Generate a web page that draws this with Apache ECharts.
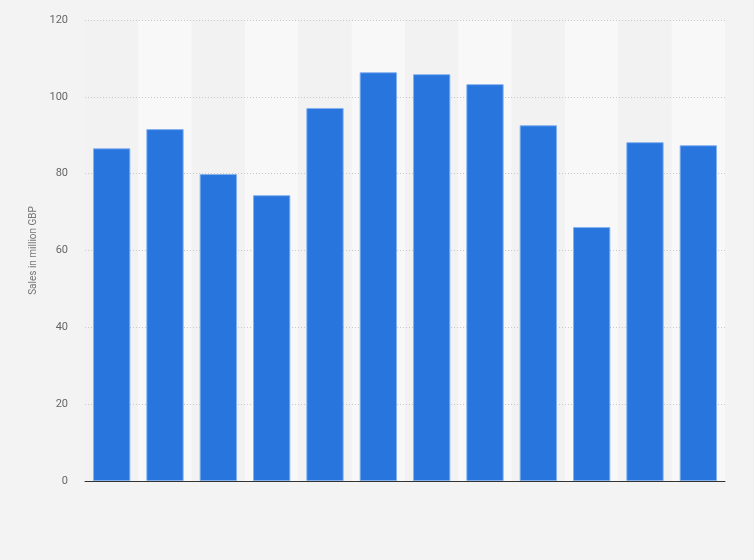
<!DOCTYPE html>
<html>
<head>
<meta charset="utf-8">
<script src="https://cdn.jsdelivr.net/npm/echarts@6/dist/echarts.min.js"></script>
<style>
html,body{margin:0;padding:0;background:#f3f3f3;}
#c{width:754px;height:560px;}
</style>
</head>
<body>
<div id="c"></div>
<script>
var categories = ['2008','2009','2010','2011','2012','2013','2014','2015','2016','2017','2018','2019'];
var sales = [86.6, 91.6, 79.9, 74.4, 97.1, 106.4, 105.9, 103.3, 92.6, 66.1, 88.2, 87.4];
var yTicks = {min: 0, max: 120, interval: 20};

var chart = echarts.init(document.getElementById('c'), null, {renderer: 'canvas'});
chart.setOption({
  backgroundColor: '#f3f3f3',
  animation: false,
  grid: {left: 85, right: 29, top: 20, bottom: 79, containLabel: false},
  xAxis: [{
    type: 'category',
    data: categories,
    z: 0,
    axisLine: {show: false},
    axisTick: {show: false},
    axisLabel: {show: false},
    splitLine: {show: false},
    splitArea: {show: true, areaStyle: {color: ['#f2f2f2', '#f8f8f8']}}
  }, {
    type: 'category',
    data: categories,
    position: 'bottom',
    z: 4,
    axisLine: {show: true, lineStyle: {color: '#333', width: 1}},
    axisTick: {show: false},
    axisLabel: {show: false},
    splitLine: {show: false},
    splitArea: {show: false}
  }],
  yAxis: {
    type: 'value',
    z: 1,
    min: yTicks.min, max: yTicks.max, interval: yTicks.interval,
    name: 'Sales in million GBP',
    nameLocation: 'middle',
    nameGap: 45,
    nameTextStyle: {color: '#777', fontSize: 10, fontFamily: 'Roboto, Arial, sans-serif'},
    axisLine: {show: false},
    axisTick: {show: false},
    axisLabel: {color: '#666', fontSize: 11, margin: 17, fontFamily: 'Roboto, Arial, sans-serif'},
    splitLine: {show: true, lineStyle: {color: '#c8c8c8', type: [1, 2], width: 1}}
  },
  series: [{
    type: 'bar',
    z: 3,
    data: sales,
    barWidth: '70%',
    itemStyle: {color: '#2876dd', borderColor: 'rgba(130,175,240,0.9)', borderWidth: 1}
  }]
});
</script>
</body>
</html>
